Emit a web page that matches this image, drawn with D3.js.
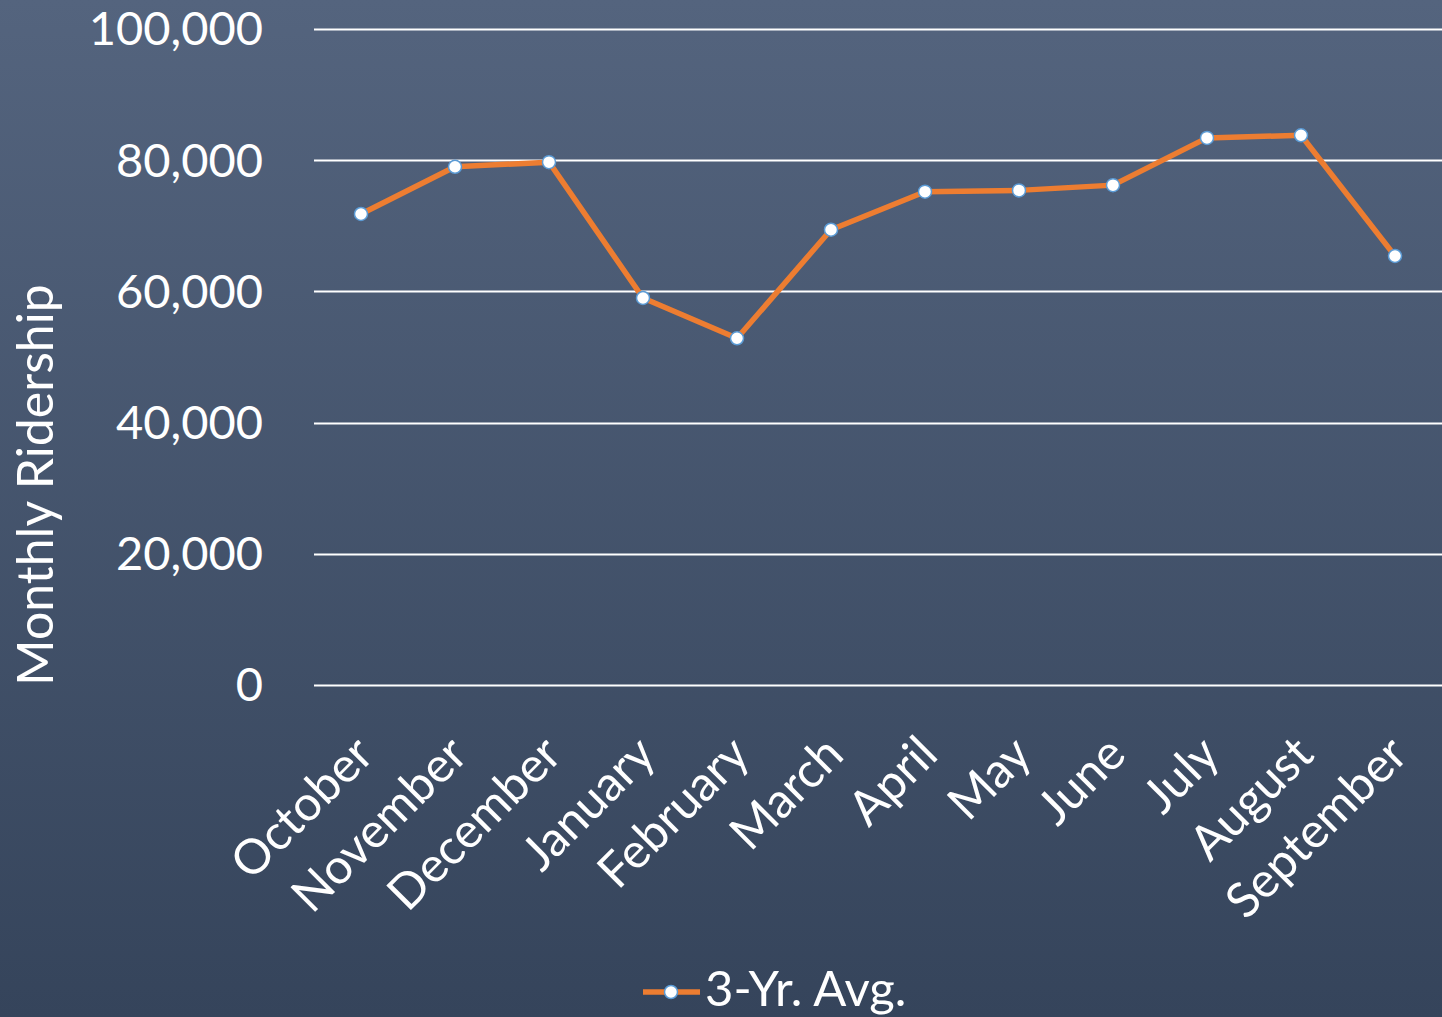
<!DOCTYPE html>
<html>
<head>
<meta charset="utf-8">
<script src="https://cdn.jsdelivr.net/npm/d3@7"></script>
<style>
  html, body { margin: 0; padding: 0; overflow: hidden; }
  body { width: 1442px; height: 1017px; }
  text { font-family: Lato, "Open Sans", sans-serif; fill: #ffffff; }
</style>
</head>
<body>
<svg id="chart" width="1442" height="1017"></svg>
<script>
const months = ["October","November","December","January","February","March","April","May","June","July","August","September"];
const avgValues = [71800, 79000, 79700, 59000, 52850, 69400, 75200, 75400, 76200, 83400, 83800, 65400];
const yTicks = [0, 20000, 40000, 60000, 80000, 100000];
const seriesName = "3-Yr. Avg.";
const yTitle = "Monthly Ridership";

const W = 1442, H = 1017;
const margin = {left: 314, right: 0, top: 29, bottom: 332};
const svg = d3.select("#chart");

const defs = svg.append("defs");
const grad = defs.append("linearGradient").attr("id","bg").attr("x1",0).attr("y1",0).attr("x2",0).attr("y2",1);
grad.append("stop").attr("offset","0%").attr("stop-color","#54647e");
grad.append("stop").attr("offset","100%").attr("stop-color","#35445b");
svg.append("rect").attr("width",W).attr("height",H).attr("fill","url(#bg)");

const x = d3.scaleBand().domain(months).range([margin.left, W - margin.right]);
const y = d3.scaleLinear().domain([0, 100000]).range([H - margin.bottom, margin.top]);

// gridlines
svg.append("g").selectAll("line").data(yTicks).join("line")
  .attr("x1", margin.left).attr("x2", W)
  .attr("y1", d => Math.round(y(d)) + 0.5).attr("y2", d => Math.round(y(d)) + 0.5)
  .attr("stroke", "#ffffff").attr("stroke-width", 2);

// y axis labels
const yAxis = d3.axisLeft(y).tickValues(yTicks).tickSize(0).tickPadding(0)
  .tickFormat(d3.format(","));
const gy = svg.append("g").attr("transform", `translate(263,0)`).call(yAxis);
gy.select(".domain").remove();
gy.selectAll("text").style("font-size","47px").attr("fill","#fff").attr("dy","0.34em");

// x axis labels
const xAxis = d3.axisBottom(x).tickSize(0).tickPadding(0);
const gx = svg.append("g").attr("transform", `translate(0,${H - margin.bottom})`).call(xAxis);
gx.select(".domain").remove();
gx.selectAll("text")
  .style("font-size","48.5px").attr("fill","#fff")
  .attr("text-anchor","end")
  .attr("dy", null).attr("y", 0)
  .attr("transform", "translate(15,72) rotate(-45)");

// y title
svg.append("text")
  .attr("transform", `translate(53,${(287+683)/2}) rotate(-90)`)
  .attr("text-anchor","middle")
  .style("font-size","50px")
  .text(yTitle);

// line
const line = d3.line().x((d,i) => x(months[i]) + x.bandwidth()/2).y(d => y(d));
svg.append("path").datum(avgValues)
  .attr("d", line).attr("fill","none")
  .attr("stroke","#ed7d31").attr("stroke-width",5.5).attr("stroke-linejoin","round");

svg.append("g").selectAll("circle").data(avgValues).join("circle")
  .attr("cx", (d,i) => x(months[i]) + x.bandwidth()/2)
  .attr("cy", d => y(d))
  .attr("r", 6.5)
  .attr("fill","#ffffff").attr("stroke","#5b9bd5").attr("stroke-width",1.5);

// legend
const lg = svg.append("g");
lg.append("line").attr("x1",643).attr("x2",700).attr("y1",992).attr("y2",992)
  .attr("stroke","#ed7d31").attr("stroke-width",5.5);
lg.append("circle").attr("cx",671).attr("cy",992).attr("r",6.5)
  .attr("fill","#fff").attr("stroke","#5b9bd5").attr("stroke-width",1.5);
lg.append("text").attr("x",705).attr("y",1006).style("font-size","49px").text(seriesName);
</script>
</body>
</html>
